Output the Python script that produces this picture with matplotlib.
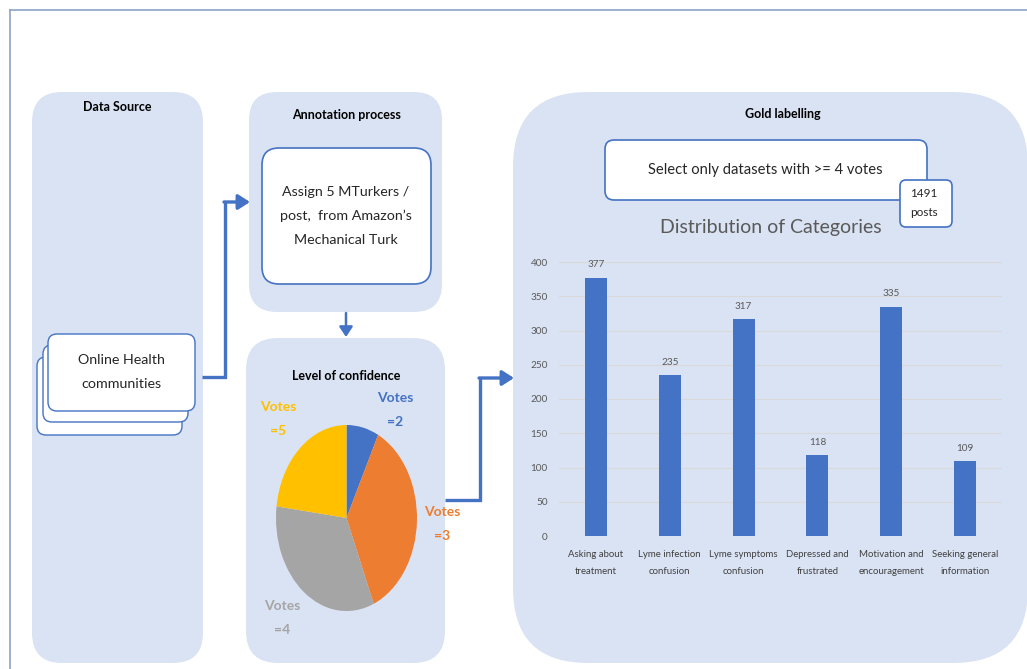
import matplotlib
matplotlib.use("Agg")
import matplotlib.pyplot as plt
from matplotlib.patches import FancyBboxPatch

plt.rcParams['font.family'] = ['Lato', 'DejaVu Sans']

# data
vote_labels = ["Votes\n=2", "Votes\n=3", "Votes\n=4", "Votes\n=5"]
vote_share = [7.4, 36.3, 33.3, 23.0]
vote_colors = ["#4472C4", "#ED7D31", "#A5A5A5", "#FFC000"]

categories = ["Asking about\ntreatment", "Lyme infection\nconfusion", "Lyme symptoms\nconfusion",
              "Depressed and\nfrustrated", "Motivation and\nencouragement", "Seeking general\ninformation"]
counts = [377, 235, 317, 118, 335, 109]
yticks = [0, 50, 100, 150, 200, 250, 300, 350, 400]

W, H = 1027, 669
PANEL = "#DAE3F3"
BLUE = "#4472C4"

fig = plt.figure(figsize=(W / 100, H / 100), dpi=100)
ax = fig.add_axes([0, 0, 1, 1])
ax.set_xlim(0, W)
ax.set_ylim(H, 0)
ax.axis("off")


def rbox(x0, y0, x1, y1, r, fc, ec="none", lw=0):
    p = FancyBboxPatch((x0, y0), x1 - x0, y1 - y0,
                       boxstyle=f"round,pad=0,rounding_size={r}",
                       fc=fc, ec=ec, lw=lw)
    ax.add_patch(p)


# outer frame
ax.plot([10, W], [10, 10], color="#8EA3C8", lw=1.2)
ax.plot([10, 10], [10, H], color="#8EA3C8", lw=1.2)

# panels
rbox(32, 92, 203, 663, 30, PANEL)
rbox(249, 92, 442, 312, 28, PANEL)
rbox(246, 338, 445, 663, 32, PANEL)
rbox(513, 92, 1028, 663, 75, PANEL)

ax.text(117, 107, "Data Source", ha="center", va="center", fontsize=9, fontweight="bold")
ax.text(346, 115, "Annotation process", ha="center", va="center", fontsize=9, fontweight="bold")
ax.text(346, 376, "Level of confidence", ha="center", va="center", fontsize=9, fontweight="bold")
ax.text(783, 114, "Gold labelling", ha="center", va="center", fontsize=9, fontweight="bold")

# annotation box
rbox(262, 148, 431, 284, 17, "white", BLUE, 1.2)
ax.text(346, 216, "Assign 5 MTurkers /\npost,  from Amazon\u2019s\nMechanical Turk",
        ha="center", va="center", fontsize=10.3, color="#262626", linespacing=2.15)

# stacked online health boxes
rbox(37, 357, 182, 435, 9, "white", BLUE, 1.0)
rbox(43, 345, 188, 422, 9, "white", BLUE, 1.0)
rbox(48, 334, 195, 411, 9, "white", BLUE, 1.0)
ax.text(121, 372, "Online Health\ncommunities", ha="center", va="center",
        fontsize=10.3, color="#262626", linespacing=2.3)

# select box and posts box
rbox(605, 140, 927, 200, 9, "white", BLUE, 1.2)
ax.text(765, 170, "Select only datasets with >= 4 votes", ha="center", va="center",
        fontsize=10.6, color="#262626")
rbox(900, 180, 952, 227, 6, "white", BLUE, 1.2)
ax.text(910, 203, "1491\nposts", ha="left", va="center", fontsize=8.5,
        color="#262626", linespacing=1.9)

ax.text(771, 227, "Distribution of Categories", ha="center", va="center",
        fontsize=14, color="#595959")

# connector arrows
ax.plot([202, 225, 225], [377, 377, 202], color=BLUE, lw=2.4, solid_capstyle="butt",
        solid_joinstyle="miter")
ax.annotate("", xy=(250, 202), xytext=(224, 202),
            arrowprops=dict(arrowstyle="-|>,head_length=0.7,head_width=0.45",
                            color=BLUE, lw=2.4, shrinkA=0, shrinkB=0))
ax.plot([445, 480, 480], [500, 500, 378], color=BLUE, lw=2.4, solid_capstyle="butt",
        solid_joinstyle="miter")
ax.annotate("", xy=(514, 378), xytext=(479, 378),
            arrowprops=dict(arrowstyle="-|>,head_length=0.7,head_width=0.45",
                            color=BLUE, lw=2.4, shrinkA=0, shrinkB=0))
ax.annotate("", xy=(346, 337), xytext=(346, 313),
            arrowprops=dict(arrowstyle="-|>,head_length=0.6,head_width=0.4",
                            color=BLUE, lw=1.8, shrinkA=0, shrinkB=0))

# vote labels
label_pos = [(395, 410), (442, 524), (282, 618), (278, 419)]
for lab, (lx, ly), c in zip(vote_labels, label_pos, vote_colors):
    ax.text(lx, ly, lab, ha="center", va="center", fontsize=10, fontweight="bold",
            color=c, linespacing=2.15)

# pie (squashed into an ellipse)
pax = fig.add_axes([276 / W, (H - 611) / H, 141 / W, 186 / H])
pax.pie(vote_share, colors=vote_colors, startangle=90, counterclock=False,
        radius=1, wedgeprops=dict(lw=0))
pax.set_aspect("auto")
pax.set_xlim(-1, 1)
pax.set_ylim(-1, 1)
pax.axis("off")

# bar chart
bx0, bx1, by0, by1 = 559, 1002, 536, 262
bax = fig.add_axes([bx0 / W, (H - by0) / H, (bx1 - bx0) / W, (by0 - by1) / H])
bax.patch.set_alpha(0)
xs = list(range(len(categories)))
bars = bax.bar(xs, counts, width=0.3, color=BLUE, zorder=3)
for x, v in zip(xs, counts):
    bax.annotate(str(v), (x, v), xytext=(0, 6), textcoords="offset points",
                 ha="center", va="bottom", fontsize=7.2, color="#595959")
bax.set_xlim(-0.5, len(categories) - 0.5)
bax.set_ylim(0, 400)
bax.set_yticks(yticks)
bax.set_xticks(xs)
bax.set_xticklabels(categories, fontsize=6.9, color="#404040", linespacing=2.1)
bax.tick_params(axis="y", labelsize=7.2, labelcolor="#595959", length=0, pad=8)
bax.tick_params(axis="x", length=0, pad=10)
bax.grid(axis="y", color="#D9D9D9", lw=0.8, zorder=0)
for s in bax.spines.values():
    s.set_visible(False)

fig.savefig("out.png", dpi=100)
